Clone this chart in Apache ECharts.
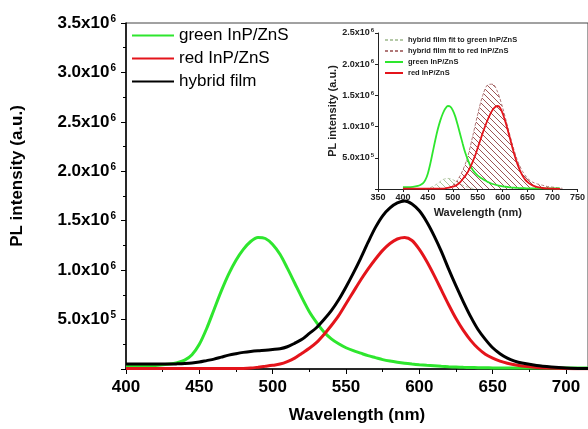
<!DOCTYPE html>
<html>
<head>
<meta charset="utf-8">
<script src="https://cdn.jsdelivr.net/npm/echarts@6/dist/echarts.min.js"></script>
<style>
  html, body { margin: 0; padding: 0; background: #fff; }
  #chart { width: 588px; height: 429px; }
</style>
</head>
<body>
<div id="chart"></div>
<script>
// wavelength grid (nm) and PL intensity in units of 1e6 (a.u.)
const wl = [400, 410, 420, 430, 435, 440, 445, 450, 455, 460, 465, 470, 475, 480, 485, 490, 495, 500, 505, 510, 515,
  520, 525, 530, 535, 540, 545, 550, 555, 560, 565, 570, 575, 580, 585, 590, 595, 600, 605, 610, 615,
  620, 625, 630, 635, 640, 645, 650, 655, 660, 665, 670, 680, 690, 700, 710, 715];
const greenQD = [0.03, 0.03, 0.035, 0.05, 0.065, 0.09, 0.145, 0.25, 0.41, 0.60, 0.79, 0.96, 1.10, 1.21, 1.29, 1.33, 1.32, 1.26, 1.16, 1.02, 0.87,
  0.72, 0.58, 0.47, 0.375, 0.305, 0.255, 0.215, 0.185, 0.16, 0.135, 0.115, 0.095, 0.08, 0.068, 0.058, 0.05, 0.043, 0.037, 0.032, 0.027,
  0.023, 0.02, 0.017, 0.015, 0.013, 0.012, 0.011, 0.01, 0.01, 0.01, 0.01, 0.01, 0.01, 0.01, 0.01, 0.01];
const redQD = [0.005, 0.005, 0.005, 0.005, 0.005, 0.005, 0.005, 0.005, 0.005, 0.005, 0.005, 0.005, 0.005, 0.006, 0.01, 0.018, 0.027, 0.037, 0.05, 0.075, 0.11,
  0.16, 0.21, 0.27, 0.35, 0.44, 0.54, 0.66, 0.78, 0.90, 1.01, 1.11, 1.20, 1.27, 1.315, 1.33, 1.30, 1.21, 1.09, 0.95, 0.80,
  0.65, 0.51, 0.39, 0.29, 0.21, 0.15, 0.11, 0.08, 0.058, 0.042, 0.03, 0.016, 0.01, 0.005, 0.003, 0.003];
const hybrid = [0.05, 0.05, 0.05, 0.05, 0.052, 0.055, 0.06, 0.07, 0.085, 0.10, 0.12, 0.14, 0.155, 0.168, 0.178, 0.185, 0.19, 0.197, 0.205, 0.225, 0.26,
  0.30, 0.36, 0.42, 0.50, 0.59, 0.70, 0.83, 0.97, 1.12, 1.28, 1.43, 1.55, 1.63, 1.68, 1.70, 1.67, 1.60, 1.49, 1.35, 1.19,
  1.01, 0.84, 0.68, 0.53, 0.40, 0.30, 0.215, 0.155, 0.11, 0.08, 0.06, 0.035, 0.02, 0.01, 0.005, 0.005];

// inset: Gaussian fits of the hybrid film
const fitGreenWl = [445, 450, 460, 470, 480, 490, 500, 510, 520, 530, 540, 545];
const fitGreen = [0, 0.01, 0.04, 0.09, 0.15, 0.17, 0.15, 0.10, 0.06, 0.03, 0.01, 0];
const fitRedWl = [490, 500, 510, 520, 530, 540, 550, 560, 570, 580, 590, 600, 610, 620, 630, 640, 650, 660, 670, 680, 690, 700, 710, 720];
const fitRed = [0.02, 0.06, 0.15, 0.30, 0.52, 0.85, 1.20, 1.50, 1.67, 1.68, 1.55, 1.30, 1.00, 0.70, 0.45, 0.28, 0.17, 0.11, 0.08, 0.06, 0.04, 0.03, 0.02, 0.01];

const UNIT = 1e6;
const pairs = (xs, ys) => xs.map((x, i) => [x, ys[i] * UNIT]);

const FONT = 'Liberation Sans, Arial, sans-serif';
const GREEN = '#2ee62e';
const RED = '#e4141b';

function hatch(color) {
  const c = document.createElement('canvas');
  c.width = c.height = 6;
  const g = c.getContext('2d');
  g.strokeStyle = color;
  g.lineWidth = 1;
  g.beginPath();
  g.moveTo(0, 0); g.lineTo(6, 6);
  g.moveTo(-1, 5); g.lineTo(1, 7);
  g.moveTo(5, -1); g.lineTo(7, 1);
  g.stroke();
  return c;
}

function sciLabel(v) {
  if (v === 0) return '';
  const e = Math.floor(Math.log10(v) + 1e-9);
  const m = (v / Math.pow(10, e)).toFixed(1);
  return m + 'x10{sup|' + e + '}';
}

const lineOpts = { type: 'line', symbol: 'none', smooth: 0.3 };

const chart = echarts.init(document.getElementById('chart'));
chart.setOption({
  animation: false,
  grid: [
    { left: 126, right: -1, top: 23, bottom: 56, show: true, borderColor: '#444', borderWidth: 1 },
    { left: 378, right: -20, top: 33, bottom: 240 }
  ],
  legend: [
    {
      data: ['green InP/ZnS', 'red InP/ZnS', 'hybrid film'],
      orient: 'vertical', left: 126, top: 22,
      itemWidth: 42, itemHeight: 12, itemGap: 6,
      itemStyle: { opacity: 0 },
      textStyle: { fontFamily: FONT, fontSize: 17, color: '#000' }
    },
    {
      data: ['hybrid film fit to green InP/ZnS', 'hybrid film fit to red InP/ZnS', 'green InP/ZnS', 'red InP/ZnS'],
      orient: 'vertical', left: 379, top: 31,
      itemWidth: 18, itemHeight: 8, itemGap: 3,
      itemStyle: { opacity: 0 },
      textStyle: { fontFamily: FONT, fontSize: 7.5, fontWeight: 'bold', color: '#222' }
    }
  ],
  xAxis: [
    {
      gridIndex: 0, type: 'value', min: 400, max: 715, interval: 50,
      name: 'Wavelength (nm)', nameLocation: 'middle', nameGap: 38,
      nameTextStyle: { fontFamily: FONT, fontSize: 17, fontWeight: 'bold', color: '#000' },
      axisLine: { lineStyle: { color: '#000', width: 1.5 } },
      axisTick: { inside: false, length: 5, lineStyle: { color: '#000' } },
      minorTick: { show: true, splitNumber: 2, length: 3, lineStyle: { color: '#000' } },
      splitLine: { show: false },
      axisLabel: { margin: 10, fontFamily: FONT, fontSize: 17, fontWeight: 'bold', color: '#000',
        showMaxLabel: false }
    },
    {
      gridIndex: 1, type: 'value', min: 350, max: 750, interval: 50,
      name: 'Wavelength (nm)', nameLocation: 'middle', nameGap: 18,
      nameTextStyle: { fontFamily: FONT, fontSize: 11, fontWeight: 'bold', color: '#222' },
      axisLine: { lineStyle: { color: '#222', width: 1 } },
      axisTick: { length: 3, lineStyle: { color: '#222' } },
      splitLine: { show: false },
      axisLabel: { margin: 4, fontFamily: FONT, fontSize: 9, fontWeight: 'bold', color: '#222' }
    }
  ],
  yAxis: [
    {
      gridIndex: 0, type: 'value', min: 0, max: 3.5e6, interval: 5e5,
      name: 'PL intensity (a.u.)', nameLocation: 'middle', nameGap: 100,
      nameTextStyle: { fontFamily: FONT, fontSize: 17, fontWeight: 'bold', color: '#000', padding: [0, 0, 0, 40] },
      axisLine: { show: true, lineStyle: { color: '#000', width: 1.5 } },
      axisTick: { show: true, length: 5, lineStyle: { color: '#000' } },
      minorTick: { show: true, splitNumber: 2, length: 3, lineStyle: { color: '#000' } },
      splitLine: { show: false },
      axisLabel: {
        margin: 10, fontFamily: FONT, fontSize: 17, fontWeight: 'bold', color: '#000',
        formatter: sciLabel,
        rich: { sup: { fontFamily: FONT, fontSize: 10, fontWeight: 'bold', color: '#000', verticalAlign: 'top', padding: [0, 0, 8, 1] } }
      }
    },
    {
      gridIndex: 1, type: 'value', min: 0, max: 2.5e6, interval: 5e5,
      name: 'PL intensity (a.u.)', nameLocation: 'middle', nameGap: 38,
      nameTextStyle: { fontFamily: FONT, fontSize: 11, fontWeight: 'bold', color: '#222' },
      axisLine: { show: true, lineStyle: { color: '#222', width: 1 } },
      axisTick: { show: true, length: 3, lineStyle: { color: '#222' } },
      splitLine: { show: false },
      axisLabel: {
        margin: 4, fontFamily: FONT, fontSize: 9, fontWeight: 'bold', color: '#222',
        formatter: sciLabel,
        rich: { sup: { fontFamily: FONT, fontSize: 6, fontWeight: 'bold', color: '#222', padding: [0, 0, 5, 1] } }
      }
    }
  ],
  series: [
    { ...lineOpts, name: 'green InP/ZnS', xAxisIndex: 0, yAxisIndex: 0, data: pairs(wl, greenQD),
      lineStyle: { color: GREEN, width: 3 }, itemStyle: { color: GREEN } },
    { ...lineOpts, name: 'red InP/ZnS', xAxisIndex: 0, yAxisIndex: 0, data: pairs(wl, redQD),
      lineStyle: { color: RED, width: 3 }, itemStyle: { color: RED } },
    { ...lineOpts, name: 'hybrid film', xAxisIndex: 0, yAxisIndex: 0, data: pairs(wl, hybrid),
      lineStyle: { color: '#000', width: 3 }, itemStyle: { color: '#000' } },

    { ...lineOpts, name: 'hybrid film fit to green InP/ZnS', xAxisIndex: 1, yAxisIndex: 1, data: pairs(fitGreenWl, fitGreen),
      lineStyle: { color: '#b5c9a8', width: 1, type: [3, 2] }, itemStyle: { color: '#b5c9a8' },
      areaStyle: { color: { image: hatch('#a9c79b'), repeat: 'repeat' }, opacity: 1 } },
    { ...lineOpts, name: 'hybrid film fit to red InP/ZnS', xAxisIndex: 1, yAxisIndex: 1, data: pairs(fitRedWl, fitRed),
      lineStyle: { color: '#b07878', width: 1, type: [3, 2] }, itemStyle: { color: '#b07878' },
      areaStyle: { color: { image: hatch('#9c5555'), repeat: 'repeat' }, opacity: 1 } },
    { ...lineOpts, name: 'green InP/ZnS', xAxisIndex: 1, yAxisIndex: 1, data: pairs(wl, greenQD),
      lineStyle: { color: GREEN, width: 1.8 }, itemStyle: { color: GREEN } },
    { ...lineOpts, name: 'red InP/ZnS', xAxisIndex: 1, yAxisIndex: 1, data: pairs(wl, redQD),
      lineStyle: { color: RED, width: 1.8 }, itemStyle: { color: RED } }
  ]
});
</script>
</body>
</html>
